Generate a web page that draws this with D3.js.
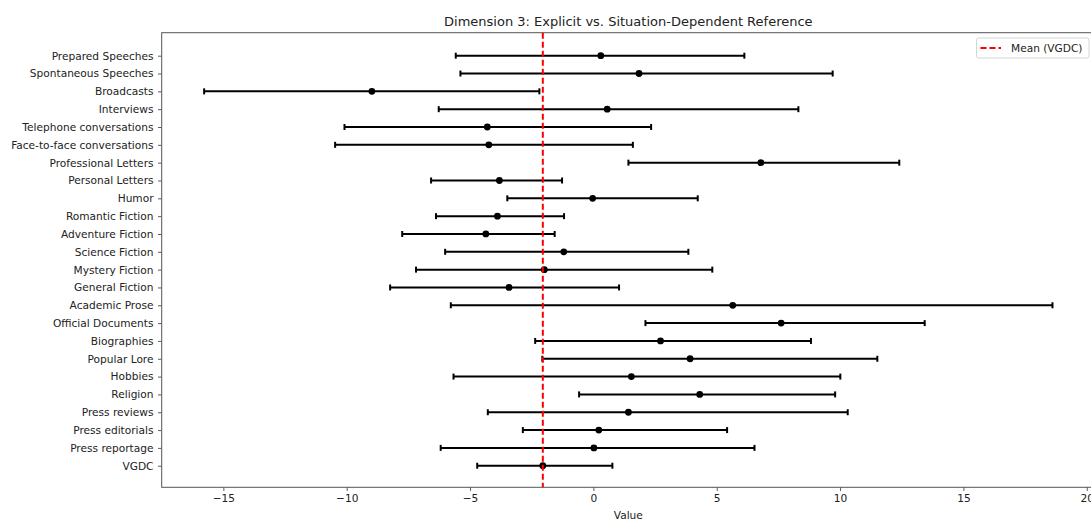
<!DOCTYPE html>
<html>
<head>
<meta charset="utf-8">
<script src="https://cdn.jsdelivr.net/npm/d3@7"></script>
<style>
  body { margin: 0; background: #fff; }
  svg { display: block; font-family: "DejaVu Sans", sans-serif; }
</style>
</head>
<body>
<div id="chart"></div>
<script>
// categories, top to bottom
let categories = ["Prepared Speeches", "Spontaneous Speeches", "Broadcasts", "Interviews",
  "Telephone conversations", "Face-to-face conversations", "Professional Letters",
  "Personal Letters", "Humor", "Romantic Fiction", "Adventure Fiction", "Science Fiction",
  "Mystery Fiction", "General Fiction", "Academic Prose", "Official Documents",
  "Biographies", "Popular Lore", "Hobbies", "Religion", "Press reviews",
  "Press editorials", "Press reportage", "VGDC"];

let means = [0.30, 1.85, -8.98, 0.56, -4.30, -4.24, 6.79, -3.81, -0.03, -3.89, -4.36, -1.20,
  -1.99, -3.42, 5.65, 7.61, 2.72, 3.92, 1.54, 4.31, 1.42, 0.22, 0.02, -2.05];
let lower = [-5.58, -5.39, -15.78, -6.27, -10.09, -10.47, 1.42, -6.58, -3.49, -6.38, -7.75, -6.01,
  -7.19, -8.24, -5.78, 2.11, -2.36, -2.07, -5.67, -0.58, -4.28, -2.86, -6.19, -4.71];
let upper = [6.12, 9.70, -2.19, 8.31, 2.34, 1.60, 12.40, -1.27, 4.23, -1.19, -1.57, 3.85,
  4.82, 1.04, 18.61, 13.43, 8.82, 11.51, 10.01, 9.80, 10.31, 5.42, 6.53, 0.77];

let x_ticks = [-15, -10, -5, 0, 5, 10, 15, 20];
let mean_vgdc = -2.05;

let width = 1091, height = 520;
let plot_left = 161.7, plot_right = 1094.9, plot_top = 32.7, plot_bottom = 487.3;

let svg = d3.select("#chart").append("svg")
  .attr("width", width)
  .attr("height", height);

let x = d3.scaleLinear().domain([-17.5, 20.33]).range([plot_left, plot_right]);
let y = d3.scaleLinear().domain([-1.29, categories.length - 1 + 1.21]).range([plot_top, plot_bottom]);

let font_size = 10.6; // px

// x axis
let x_axis = svg.append("g")
  .attr("transform", "translate(0," + plot_bottom + ")")
  .call(d3.axisBottom(x).tickValues(x_ticks).tickSize(3.7).tickPadding(3.5)
    .tickFormat(d => d3.format("d")(d).replace("-", "\u2212")));
x_axis.select(".domain").remove();
x_axis.selectAll("line").attr("stroke", "#333").attr("stroke-width", 0.8);
x_axis.selectAll("text").attr("font-size", font_size).attr("fill", "#222")
  .attr("font-family", "DejaVu Sans, sans-serif");

// y axis
let y_axis = svg.append("g")
  .attr("transform", "translate(" + plot_left + ",0)")
  .call(d3.axisLeft(y).tickValues(d3.range(categories.length)).tickSize(3.7).tickPadding(4.5)
    .tickFormat(i => categories[i]));
y_axis.select(".domain").remove();
y_axis.selectAll("line").attr("stroke", "#333").attr("stroke-width", 0.8);
y_axis.selectAll("text").attr("font-size", font_size).attr("fill", "#222")
  .attr("font-family", "DejaVu Sans, sans-serif");

// spines
svg.append("rect")
  .attr("x", plot_left).attr("y", plot_top)
  .attr("width", plot_right - plot_left).attr("height", plot_bottom - plot_top)
  .attr("fill", "none").attr("stroke", "#555").attr("stroke-width", 1);

// error bars
let rows = categories.map((c, i) => ({ i: i, m: means[i], lo: lower[i], hi: upper[i] }));
let eb = svg.append("g").selectAll("g").data(rows).enter().append("g");

eb.append("line")
  .attr("x1", d => x(d.lo)).attr("x2", d => x(d.hi))
  .attr("y1", d => y(d.i)).attr("y2", d => y(d.i))
  .attr("stroke", "black").attr("stroke-width", 2);
eb.append("line")
  .attr("x1", d => x(d.lo)).attr("x2", d => x(d.lo))
  .attr("y1", d => y(d.i) - 3).attr("y2", d => y(d.i) + 3)
  .attr("stroke", "black").attr("stroke-width", 2);
eb.append("line")
  .attr("x1", d => x(d.hi)).attr("x2", d => x(d.hi))
  .attr("y1", d => y(d.i) - 3).attr("y2", d => y(d.i) + 3)
  .attr("stroke", "black").attr("stroke-width", 2);

// mean line
svg.append("line")
  .attr("x1", x(mean_vgdc)).attr("x2", x(mean_vgdc))
  .attr("y1", plot_top).attr("y2", plot_bottom)
  .attr("stroke", "red").attr("stroke-width", 2).attr("stroke-dasharray", "6,3");

eb.append("circle")
  .attr("cx", d => x(d.m)).attr("cy", d => y(d.i))
  .attr("r", 3.4).attr("fill", "black");

// title and label
svg.append("text")
  .attr("x", (plot_left + plot_right) / 2).attr("y", 26)
  .attr("text-anchor", "middle").attr("font-size", 13).attr("fill", "#222")
  .text("Dimension 3: Explicit vs. Situation-Dependent Reference");

svg.append("text")
  .attr("x", (plot_left + plot_right) / 2).attr("y", 519)
  .attr("text-anchor", "middle").attr("font-size", font_size).attr("fill", "#222")
  .text("Value");

// legend
let legend = svg.append("g");
legend.append("rect")
  .attr("x", 976.5).attr("y", 38).attr("width", 112.5).attr("height", 20)
  .attr("rx", 2).attr("fill", "white").attr("stroke", "#d5d5d5").attr("stroke-width", 1);
legend.append("line")
  .attr("x1", 980.5).attr("x2", 1001).attr("y1", 48).attr("y2", 48)
  .attr("stroke", "red").attr("stroke-width", 2).attr("stroke-dasharray", "6,3");
legend.append("text")
  .attr("x", 1011).attr("y", 48).attr("dy", "0.35em")
  .attr("font-size", font_size).attr("fill", "#222")
  .text("Mean (VGDC)");
</script>
</body>
</html>
